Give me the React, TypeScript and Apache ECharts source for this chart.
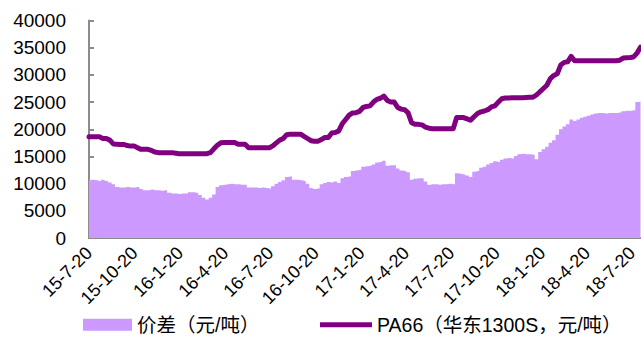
import React, { useEffect, useRef } from "react";
import * as echarts from "echarts";

// Weekly observations starting from the first week below
const FIRST_WEEK = "2015-07-20";
const AXIS_END = "2018-08-07";

// Quarterly tick dates shown on the x axis
const tickDates = [
  "2015-07-20", "2015-10-20", "2016-01-20", "2016-04-20", "2016-07-20",
  "2016-10-20", "2017-01-20", "2017-04-20", "2017-07-20", "2017-10-20",
  "2018-01-20", "2018-04-20", "2018-07-20",
];

const yTicks = [0, 5000, 10000, 15000, 20000, 25000, 30000, 35000, 40000];

const spreadName = "价差（元/吨）";
const pa66Name = "PA66（华东1300S，元/吨）";

// PA66 price, yuan/ton, weekly
const pa66 = [
  18600, 18600, 18600, 18600, 18300, 18300, 18000, 17300, 17250, 17200,
  17200, 17000, 16900, 16900, 16600, 16300, 16300, 16300, 16100, 15800,
  15700, 15700, 15700, 15700, 15700, 15600, 15500, 15500, 15500, 15500,
  15500, 15500, 15500, 15500, 15500, 15700, 16400, 17050, 17500, 17550,
  17550, 17550, 17550, 17250, 17250, 17250, 16600, 16600, 16600, 16600,
  16600, 16600, 16600, 16950, 17500, 18000, 18300, 19000, 19100, 19100,
  19100, 19100, 18700, 18300, 17900, 17800, 17800, 18100, 18500, 18500,
  19300, 19400, 19700, 21000, 21800, 22600, 23000, 23050, 23300, 24000,
  24200, 24300, 25000, 25500, 25700, 26100, 25300, 25000, 25000, 24000,
  23700, 23600, 23000, 21200, 20900, 20900, 20800, 20400, 20200, 20100,
  20100, 20100, 20100, 20100, 20100, 20100, 22150, 22150, 22150, 21900,
  21650, 22300, 22900, 23200, 23350, 23600, 24100, 24300, 25000, 25600,
  25750, 25750, 25800, 25800, 25800, 25800, 25850, 25900, 25900, 26300,
  26900, 27500, 28100, 29300, 29900, 30200, 31800, 32300, 32400, 33400,
  32600, 32600, 32600, 32600, 32600, 32600, 32600, 32600, 32600, 32600,
  32600, 32600, 32600, 32700, 33100, 33150, 33200, 33300, 34000, 35100,
];

// Price spread, yuan/ton, weekly
const spread = [
  10600, 10700, 10600, 10500, 10700, 10500, 10200, 9900, 9400, 9300,
  9300, 9400, 9300, 9300, 9400, 9000, 8800, 8800, 8900, 8800,
  8800, 8700, 8800, 8300, 8200, 8200, 8100, 8200, 8200, 8400,
  8400, 8300, 7900, 7400, 7100, 7400, 8000, 9400, 9700, 9800,
  9900, 10000, 9900, 9900, 9800, 9800, 9300, 9300, 9300, 9200,
  9300, 9200, 9100, 9500, 10000, 10300, 10600, 11200, 11300, 10700,
  10700, 10600, 10500, 10000, 9200, 9000, 9100, 9900, 10100, 10300,
  10200, 10400, 10100, 11000, 11200, 11300, 12300, 12400, 12500, 13100,
  13200, 13300, 13500, 13900, 14000, 14200, 13300, 13400, 13400, 12800,
  12400, 12300, 12100, 10700, 10900, 11000, 11000, 10400, 9800, 9900,
  9900, 9800, 9900, 9900, 10000, 9900, 11900, 11800, 11700, 11500,
  11200, 12200, 12300, 12900, 13100, 13500, 13800, 14100, 14000, 14400,
  14600, 14700, 14600, 15100, 15400, 15500, 15400, 15400, 15300, 14500,
  15800, 16300, 16800, 17500, 18000, 19000, 20000, 20500, 20900, 21800,
  21500, 21800, 22100, 22300, 22500, 22700, 22900, 23000, 23000, 22900,
  23000, 23000, 23000, 23100, 23300, 23400, 23400, 23500, 25000, 25100,
];

const FONT = '"Liberation Sans", Arial, "Noto Sans CJK SC", sans-serif';
const AXIS_GREY = "#8c8c8c";
const SPREAD_COLOR = "#CC99FF";
const PA66_COLOR = "#800080";
const DAY = 86400000;

function parseDay(s: string): number {
  const [y, m, d] = s.split("-").map(Number);
  return Date.UTC(y, m - 1, d);
}

const origin = parseDay(FIRST_WEEK);

// Days elapsed since the first week
function dayOffset(s: string): number {
  return Math.round((parseDay(s) - origin) / DAY);
}

function shortDate(offset: number): string {
  const d = new Date(origin + offset * DAY);
  return `${d.getUTCFullYear() % 100}-${d.getUTCMonth() + 1}-${d.getUTCDate()}`;
}

export default function App() {
  const ref = useRef<HTMLDivElement>(null);

  useEffect(() => {
    if (!ref.current) return;
    const chart = echarts.init(ref.current, undefined, { renderer: "svg" });
    const tickValues = tickDates.map(dayOffset);
    const legendText = { fontSize: 19.5, color: "#000", fontFamily: FONT };

    chart.setOption({
      animation: false,
      backgroundColor: "#ffffff",
      textStyle: { fontFamily: FONT },
      grid: {
        left: 89,
        right: 0,
        top: 20.5,
        bottom: 121,
        containLabel: false,
        outerBoundsMode: "none",
      },
      legend: [
        {
          left: 78,
          top: 310,
          itemWidth: 49,
          itemHeight: 12,
          textStyle: legendText,
          data: [{ name: spreadName, icon: "rect", itemStyle: { color: SPREAD_COLOR } }],
        },
        {
          left: 315,
          top: 310,
          itemWidth: 52,
          itemHeight: 5,
          textStyle: legendText,
          data: [{ name: pa66Name, icon: "rect", itemStyle: { color: PA66_COLOR } }],
        },
      ],
      xAxis: {
        type: "value",
        min: 0,
        max: dayOffset(AXIS_END),
        splitLine: { show: false },
        axisLine: { show: true, lineStyle: { color: AXIS_GREY, width: 2 } },
        axisTick: {
          show: true,
          inside: true,
          length: 5,
          customValues: tickValues,
          lineStyle: { color: AXIS_GREY, width: 2 },
        },
        axisLabel: {
          customValues: tickValues,
          rotate: 45,
          margin: 12,
          fontSize: 18,
          color: "#000",
          fontFamily: FONT,
          formatter: (v: number) => shortDate(v),
        },
      },
      yAxis: {
        type: "value",
        min: 0,
        max: 40000,
        interval: 5000,
        splitLine: { show: false },
        axisLine: { show: true, lineStyle: { color: AXIS_GREY, width: 2 } },
        axisTick: {
          show: true,
          inside: true,
          length: 5,
          lineStyle: { color: AXIS_GREY, width: 2 },
        },
        axisLabel: {
          margin: 23,
          fontSize: 19,
          color: "#000",
          fontFamily: FONT,
          formatter: (v: number) => (yTicks.includes(v) ? String(v) : ""),
        },
      },
      series: [
        {
          name: spreadName,
          type: "line",
          step: "middle",
          symbol: "none",
          itemStyle: { color: SPREAD_COLOR },
          lineStyle: { width: 0, color: SPREAD_COLOR },
          areaStyle: { color: SPREAD_COLOR, opacity: 1 },
          data: spread.map((v, i) => [i * 7, v]),
          z: 1,
        },
        {
          name: pa66Name,
          type: "line",
          symbol: "none",
          itemStyle: { color: PA66_COLOR },
          lineStyle: { width: 5, color: PA66_COLOR, join: "round", cap: "round" },
          data: pa66.map((v, i) => [i * 7, v]),
          z: 3,
        },
      ],
    });

    return () => chart.dispose();
  }, []);

  return (
    <div
      ref={ref}
      style={{ position: "fixed", left: 0, top: 0, width: 641, height: 359 }}
    />
  );
}
